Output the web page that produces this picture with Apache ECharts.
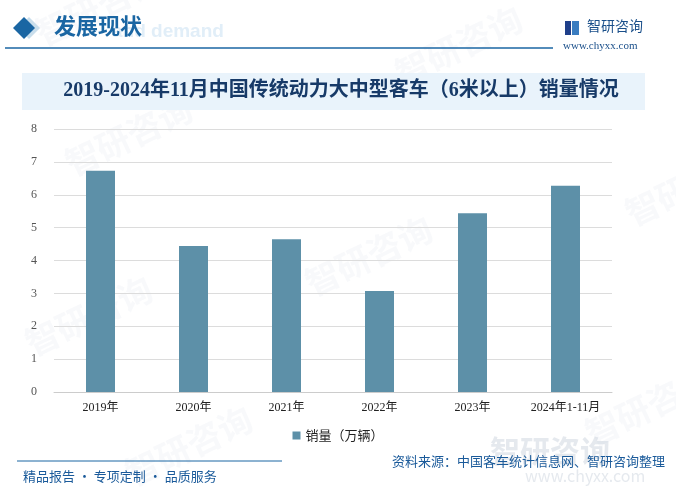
<!DOCTYPE html>
<html><head><meta charset="utf-8">
<script src="https://cdn.jsdelivr.net/npm/echarts@6/dist/echarts.min.js"></script>
<style>html,body{margin:0;padding:0;background:#fff}#c{width:676px;height:499px}</style>
</head><body><div id="c"></div>
<script>
const categories = ['2019年','2020年','2021年','2022年','2023年','2024年1-11月'];
const sales = [6.73, 4.44, 4.65, 3.07, 5.44, 6.27];
const yTicks = [0,1,2,3,4,5,6,7,8];
const seriesName = '销量（万辆）';
const titleText = '2019-2024年11月中国传统动力大中型客车（6米以上）销量情况';

const chart = echarts.init(document.getElementById('c'), null, {renderer:'canvas'});
const cjk = "'Noto Sans CJK SC','Noto Sans',sans-serif";
const serif = "'Liberation Serif','DejaVu Serif','Noto Sans CJK SC',serif";
const wm = [];
[[60,150],[390,60],[620,200],[20,330],[300,270],[580,420],[120,460],[30,20]].forEach(p=>{
  wm.push({type:'text', x:p[0], y:p[1], rotation:Math.PI/7, z:0, silent:true,
    style:{text:'智研咨询', fill:'rgba(200,210,222,0.13)', font:'bold 34px '+cjk}});
});
chart.setOption({
  animation:false,
  grid:{left:54, right:64, top:129, bottom:107},
  legend:{bottom:52, left:'center', itemWidth:8, itemHeight:8, itemGap:6, icon:'rect',
    textStyle:{color:'#222', fontSize:13, fontFamily:cjk}, data:[seriesName]},
  xAxis:{type:'category', data:categories,
    axisLine:{lineStyle:{color:'#cccccc'}}, axisTick:{show:false},
    axisLabel:{color:'#222', fontSize:12, margin:10, fontFamily:serif, interval:0}},
  yAxis:{type:'value', min:yTicks[0], max:yTicks[yTicks.length-1], interval:1,
    axisLine:{show:false}, axisTick:{show:false},
    axisLabel:{color:'#555', fontSize:12, margin:17, fontFamily:serif},
    splitLine:{lineStyle:{color:'#dcdcdc'}}},
  series:[{name:seriesName, type:'bar', data:sales, barWidth:29,
    itemStyle:{color:'#5d90a8'}}],
  graphic: wm.concat([
    {type:'text', x:112, y:22, silent:true, style:{text:'and demand', fill:'#e1eef8', font:'bold 19px Arial,sans-serif'}},
    {type:'polygon', shape:{points:[[29,17],[40,28],[29,39],[18,28]]}, style:{fill:'#c9deec'}},
    {type:'polygon', shape:{points:[[24,17],[35,28],[24,39],[13,28]]}, style:{fill:'#1a66a3'}},
    {type:'text', x:54, y:15, style:{text:'发展现状', fill:'#1a66a3', font:'bold 22px '+cjk}},
    {type:'line', shape:{x1:5,y1:48,x2:553,y2:48}, style:{stroke:'#1a66a3', lineWidth:1.5}},
    {type:'rect', shape:{x:565,y:21,width:6,height:14}, style:{fill:'#1f3f8a'}},
    {type:'rect', shape:{x:572,y:21,width:7,height:14}, style:{fill:'#3a7cc0'}},
    {type:'text', x:587, y:19, style:{text:'智研咨询', fill:'#1a4f8a', font:'14px '+cjk}},
    {type:'text', x:563, y:41, style:{text:'www.chyxx.com', fill:'#1a4f8a', font:'11px '+serif}},
    {type:'rect', shape:{x:22,y:73,width:623,height:37}, style:{fill:'#e9f3fb'}},
    {type:'text', x:341, y:91, style:{text:titleText, fill:'#173a68', font:'bold 20px '+serif, align:'center', verticalAlign:'middle'}},
    {type:'text', x:490, y:436, silent:true, style:{text:'智研咨询', fill:'rgba(190,200,212,0.4)', font:'bold 30px '+cjk}},
    {type:'text', x:525, y:468, silent:true, style:{text:'www.chyxx.com', fill:'rgba(190,200,212,0.4)', font:'16px '+cjk}},
    {type:'line', shape:{x1:17,y1:461,x2:282,y2:461}, style:{stroke:'#1a66a3', lineWidth:1}},
    {type:'text', x:23, y:470, style:{text:'精品报告 · 专项定制 · 品质服务', fill:'#1a5a9a', font:'13px '+cjk}},
    {type:'text', x:665, y:455, style:{text:'资料来源：中国客车统计信息网、智研咨询整理', fill:'#1a5a9a', font:'13px '+cjk, align:'right'}}
  ])
});
</script></body></html>
